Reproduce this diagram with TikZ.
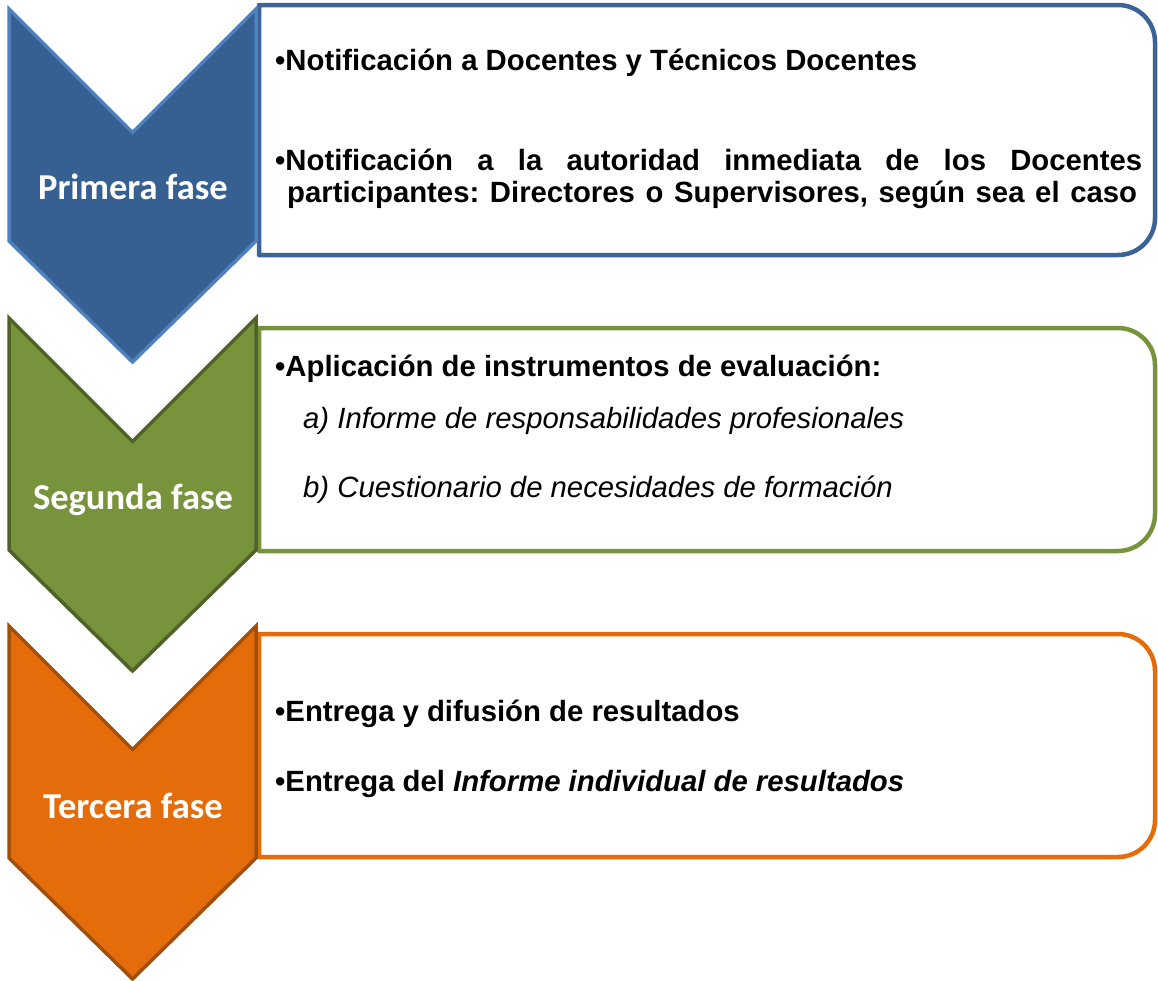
\documentclass[tikz,border=0pt]{standalone}
\usepackage{fontspec}
\setmainfont{Liberation Sans}
\newfontfamily\calib{Carlito}
\definecolor{bluefill}{HTML}{376092}
\definecolor{blueline}{HTML}{4F81BD}
\definecolor{bluebox}{HTML}{3B6397}
\definecolor{greenfill}{HTML}{77933C}
\definecolor{greenline}{HTML}{4F6228}
\definecolor{orangefill}{HTML}{E46C0A}
\definecolor{orangeline}{HTML}{A04F0A}
\newcommand\phasebox[3]{% top, bottom, colour
  \draw[boxline,draw=#3] (259,#1) -- (1118,#1)
    arc[start angle=-90,end angle=0,radius=37] -- (1155,#2-37)
    arc[start angle=0,end angle=90,radius=37] -- (259,#2) -- cycle;}
\newcommand\chev[3]{% top, fill, line
  \draw[chevline,fill=#2,draw=#3] (9,#1) -- (132.5,#1+123.5) -- (256,#1)
    -- (256,#1+232) -- (132.5,#1+353) -- (9,#1+232) -- cycle;}
\frenchspacing
\begin{document}
\begin{tikzpicture}[x=1pt,y=-1pt,
  boxline/.style={line width=4.5pt,fill=white,line join=round},
  chevline/.style={line width=3.5pt,line join=miter},
  phaselabel/.style={text=white,font=\calib\bfseries\fontsize{36.5}{40}\selectfont,anchor=base,inner sep=0pt},
  item/.style={font=\bfseries\fontsize{29.3}{33}\selectfont,anchor=base west,inner sep=0pt},
  subitem/.style={font=\itshape\fontsize{29.3}{33}\selectfont,anchor=base west,inner sep=0pt}]
\useasboundingbox (0,0) rectangle (1158,980);
\phasebox{5}{255}{bluebox}
\phasebox{328}{551}{greenfill}
\phasebox{634}{857}{orangefill}
\chev{9}{bluefill}{blueline}
\chev{318}{greenfill}{greenline}
\chev{626}{orangefill}{orangeline}
\node[phaselabel] (p1) at (133,199) {Primera fase};
\node[phaselabel] (p2) at (133,509) {Segunda fase};
\node[phaselabel] (p3) at (133,818) {Tercera fase};
\node[item] (t1) at (275,70) {•Notificación a Docentes y Técnicos Docentes};
\node[item] (t2) at (275,170) {\makebox[867pt][s]{•Notificación a la autoridad inmediata de los Docentes}};
\node[item] (t3) at (287,202) {\makebox[850pt][s]{participantes: Directores o Supervisores, según sea el caso}};
\node[item] (t4) at (275,376) {•Aplicación de instrumentos de evaluación:};
\node[subitem] (t5) at (303,428) {a) Informe de responsabilidades profesionales};
\node[subitem] (t6) at (303,497) {b) Cuestionario de necesidades de formación};
\node[item] (t7) at (275,721) {•Entrega y difusión de resultados};
\node[item] (t8) at (275,791) {•Entrega del \textit{Informe individual de resultados}};
\end{tikzpicture}
\end{document}
